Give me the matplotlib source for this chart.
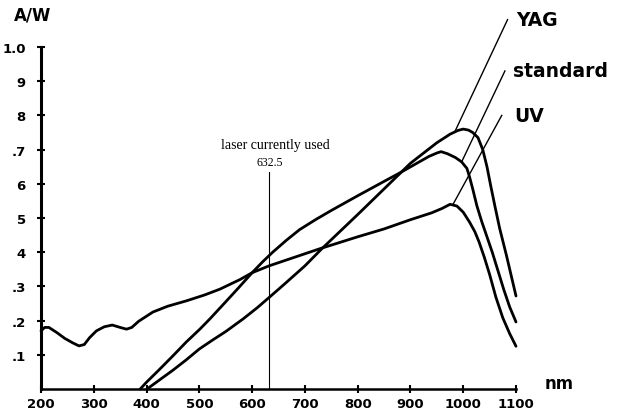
import matplotlib
matplotlib.use("Agg")
import matplotlib.pyplot as plt

# Photodiode spectral responsivity (A/W) versus wavelength (nm)
uv_nm = [200, 207, 215, 230, 245, 260, 272, 282, 292, 305, 320, 335, 350, 362,
         372, 385, 400, 412, 440, 476, 510, 539, 577, 600, 632, 680, 728, 800,
         850, 900, 940, 960, 975, 988, 1000, 1012, 1022, 1030, 1040, 1050,
         1062, 1075, 1088, 1100]
uv_aw = [0.17, 0.18, 0.18, 0.165, 0.148, 0.135, 0.126, 0.13, 0.15, 0.17, 0.182,
         0.187, 0.18, 0.175, 0.18, 0.198, 0.213, 0.225, 0.242, 0.258, 0.275,
         0.292, 0.32, 0.34, 0.36, 0.385, 0.41, 0.445, 0.468, 0.495, 0.515,
         0.528, 0.54, 0.535, 0.517, 0.488, 0.46, 0.43, 0.385, 0.335, 0.268,
         0.208, 0.162, 0.125]

std_nm = [388, 400, 425, 450, 475, 501, 520, 550, 575, 600, 620, 639, 665, 690,
          720, 750, 800, 850, 880, 912, 935, 950, 958, 970, 985, 997, 1007,
          1012, 1018, 1026, 1035, 1045, 1055, 1066, 1077, 1088, 1100]
std_aw = [0.0, 0.02, 0.058, 0.097, 0.137, 0.175, 0.205, 0.255, 0.297, 0.34,
          0.372, 0.40, 0.435, 0.466, 0.495, 0.522, 0.565, 0.607, 0.632, 0.66,
          0.68, 0.69, 0.694, 0.688, 0.677, 0.664, 0.645, 0.62, 0.585, 0.535,
          0.49, 0.445, 0.40, 0.345, 0.29, 0.24, 0.196]

yag_nm = [401, 425, 450, 475, 500, 525, 550, 583, 610, 634, 660, 700, 732, 766,
          800, 850, 900, 925, 950, 975, 990, 1000, 1010, 1018, 1028, 1037,
          1045, 1052, 1060, 1069, 1082, 1100]
yag_aw = [0.0, 0.027, 0.055, 0.085, 0.117, 0.143, 0.168, 0.205, 0.238, 0.27,
          0.305, 0.36, 0.41, 0.46, 0.51, 0.585, 0.66, 0.69, 0.72, 0.745, 0.756,
          0.76, 0.757, 0.75, 0.735, 0.70, 0.65, 0.595, 0.535, 0.47, 0.39,
          0.272]

laser_nm = 632.5
x_ticks = [200, 300, 400, 500, 600, 700, 800, 900, 1000, 1100]
x_tick_labels = ["200", "300", "400", "500", "600", "700", "800", "900", "1000", "1100"]
y_ticks = [0.1, 0.2, 0.3, 0.4, 0.5, 0.6, 0.7, 0.8, 0.9, 1.0]
y_tick_labels = [".1", ".2", ".3", "4", "5", "6", ".7", "8", "9", "1.0"]

W, H = 627, 414
fig = plt.figure(figsize=(W / 100, H / 100), dpi=100)
fig.patch.set_facecolor("white")
ax = fig.add_axes([41 / W, (H - 390) / H, (516 - 41) / W, (390 - 48) / H])

for nm, aw in ((uv_nm, uv_aw), (std_nm, std_aw), (yag_nm, yag_aw)):
    ax.plot(nm, aw, color="black", lw=2.0, solid_joinstyle="round",
            solid_capstyle="round", clip_on=False)

# leader lines to the curve names
leaders = [("YAG", (984, 0.752), (1084, 1.08), (1101, 1.08)),
           ("standard", (997, 0.664), (1079, 0.93), (1094, 0.93)),
           ("UV", (980, 0.538), (1073, 0.80), (1097, 0.80))]
for name, p0, p1, tp in leaders:
    ax.plot([p0[0], p1[0]], [p0[1], p1[1]], color="black", lw=1.0, clip_on=False)
    ax.text(tp[0], tp[1], name, fontsize=13.5, fontweight="bold", ha="left",
            va="center", family="DejaVu Sans", clip_on=False)

# laser marker
ax.plot([laser_nm, laser_nm], [0, 0.635], color="black", lw=0.8)
ax.text(laser_nm + 12, 0.716, "laser currently used", family="Liberation Serif",
        fontsize=10, ha="center", va="center")
ax.text(laser_nm, 0.664, "632.5", family="Liberation Serif", fontsize=8.5,
        ha="center", va="center")

ax.set_xlim(200, 1100)
ax.set_ylim(0, 1.0)
ax.set_xticks(x_ticks)
ax.set_xticklabels(x_tick_labels)
ax.set_yticks(y_ticks)
ax.set_yticklabels(y_tick_labels)
for lab in ax.get_xticklabels() + ax.get_yticklabels():
    lab.set_fontweight("bold")
    lab.set_fontsize(9.5)
    lab.set_family("DejaVu Sans")

for s in ("top", "right"):
    ax.spines[s].set_visible(False)
ax.spines["left"].set_linewidth(2.2)
ax.spines["bottom"].set_linewidth(1.8)
ax.tick_params(axis="both", direction="inout", length=6, width=1.5, colors="black")
ax.tick_params(axis="x", pad=3)
ax.tick_params(axis="y", pad=8)
ax.patch.set_alpha(0)

fig.text(14 / W, 1 - 15 / H, "A/W", fontsize=12, fontweight="bold",
         ha="left", va="center", family="DejaVu Sans")
fig.text(545 / W, 1 - 384 / H, "nm", fontsize=12, fontweight="bold",
         ha="left", va="center", family="DejaVu Sans")

fig.savefig("out.png", dpi=100, facecolor="white")
